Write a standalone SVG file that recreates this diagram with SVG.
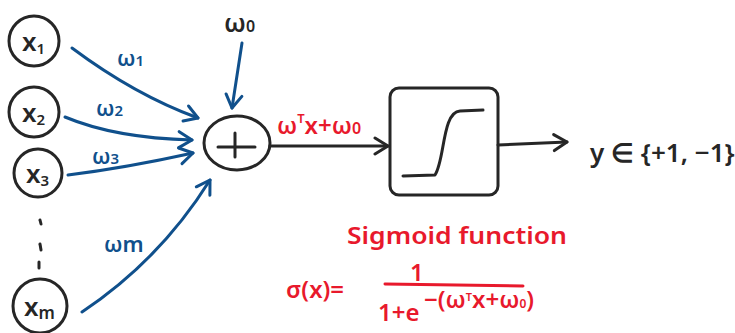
<svg xmlns="http://www.w3.org/2000/svg" width="735" height="333" viewBox="0 0 735 333">
<style>
.nd{fill:none;stroke:#262626;stroke-width:3;stroke-linecap:round;stroke-linejoin:round}
.bl{fill:none;stroke:#10508c;stroke-width:3;stroke-linecap:round}
.bk{fill:none;stroke:#262626;stroke-width:3;stroke-linecap:round}
.rd{fill:none;stroke:#e8192c;stroke-width:3;stroke-linecap:round}
text{font-family:"Noto Sans","Liberation Sans",sans-serif;font-weight:600}
.tb{fill:#10508c;font-size:22px}
.tk{fill:#262626;font-size:26px}
.tr{fill:#e8192c;font-size:24px}
.tx{fill:#262626;font-size:26px}
</style>
<defs>
<marker id="ab" markerUnits="userSpaceOnUse" markerWidth="20" markerHeight="20" refX="0" refY="0" viewBox="-16 -10 20 20" orient="auto"><path d="M-13,-8 L0,0 L-13,8" fill="none" stroke="#10508c" stroke-width="3" stroke-linecap="round" stroke-linejoin="round"/></marker>
<marker id="ak" markerUnits="userSpaceOnUse" markerWidth="20" markerHeight="20" refX="0" refY="0" viewBox="-16 -10 20 20" orient="auto"><path d="M-13,-8 L0,0 L-13,8" fill="none" stroke="#262626" stroke-width="3" stroke-linecap="round" stroke-linejoin="round"/></marker>
</defs>
<g id="x1"><circle class="nd" cx="34" cy="41" r="25"/><text class="tx" x="22" y="51">x<tspan font-size="15" dy="3">1</tspan></text></g>
<g id="x2"><circle class="nd" cx="34" cy="112" r="25"/><text class="tx" x="22" y="122">x<tspan font-size="15" dy="3">2</tspan></text></g>
<g id="x3"><circle class="nd" cx="38" cy="173" r="24"/><text class="tx" x="26" y="183">x<tspan font-size="15" dy="3">3</tspan></text></g>
<g id="dots"><line class="bk" x1="40" y1="220" x2="41" y2="224"/><line class="bk" x1="40" y1="244" x2="41" y2="250"/><line class="bk" x1="39" y1="262" x2="39" y2="268"/></g>
<g id="xm"><circle class="nd" cx="40" cy="306" r="27"/><text class="tx" x="24" y="316">x<tspan font-size="17" dy="3">m</tspan></text></g>
<g id="sum"><ellipse class="nd" cx="237" cy="143" rx="33" ry="27"/><path class="nd" d="M218,147 L255,147 M235,133 L235,157"/></g>
<g id="sigmoid"><rect class="nd" x="390" y="88" width="108" height="107" rx="9"/><path class="nd" d="M403,176 L435,175 C445,160 442,112 460,111 L483,110"/></g>
<g id="output"><text class="tx" x="590" y="162" font-size="21">y ∈ {+1, −1}</text></g>
<g id="connectors">
<path class="bl" d="M72,48 Q135,95 198,118" marker-end="url(#ab)"/>
<path class="bl" d="M65,117 Q115,138 192,140" marker-end="url(#ab)"/>
<path class="bl" d="M68,175 Q125,168 193,153" marker-end="url(#ab)"/>
<path class="bl" d="M82,312 Q160,260 210,180" marker-end="url(#ab)"/>
<path class="bl" d="M242,43 L232,108" marker-end="url(#ab)"/>
<path class="bk" d="M270,146 L388,146" marker-end="url(#ak)"/>
<path class="bk" d="M498,145 L567,142" marker-end="url(#ak)"/>
</g>
<g id="labels">
<text class="tb" x="117" y="66">ω<tspan font-size="15">1</tspan></text>
<text class="tb" x="96" y="116">ω<tspan font-size="15">2</tspan></text>
<text class="tb" x="92" y="164">ω<tspan font-size="15">3</tspan></text>
<text class="tb" x="104" y="252">ωm</text>
<text class="tk" x="224" y="32">ω<tspan font-size="16">0</tspan></text>
<text class="tr" x="277" y="134">ω<tspan font-size="13" dy="-11">T</tspan><tspan dy="11">x+ω</tspan><tspan font-size="16">0</tspan></text>
<text class="tr" x="347" y="244" font-size="28" textLength="220" lengthAdjust="spacingAndGlyphs">Sigmoid function</text>
<text class="tr" x="286" y="298" font-size="32">σ(x)=</text>
<text class="tr" x="410" y="281" font-size="24">1</text>
<line class="rd" x1="385" y1="284" x2="523" y2="286"/>
<text class="tr" x="378" y="321" font-size="26">1+e</text>
<text class="tr" x="424" y="308" font-size="19">−(ω<tspan font-size="11" dy="-7">T</tspan><tspan dy="7">x+ω</tspan><tspan font-size="12">0</tspan>)</text>
</g>
</svg>
